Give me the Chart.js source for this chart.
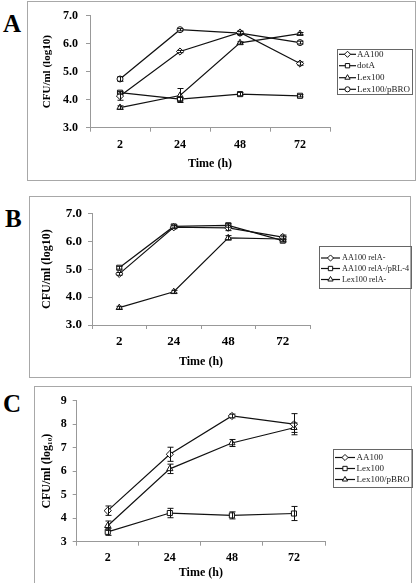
<!DOCTYPE html>
<html><head><meta charset="utf-8">
<script src="https://cdn.jsdelivr.net/npm/chart.js@4"></script>
<style>
html,body{margin:0;padding:0;background:#fff;width:416px;height:583px;overflow:hidden;}
.box{position:absolute;border:1px solid #a8a8a8;box-sizing:border-box;}
canvas{position:absolute;left:0;top:0;}
.lab{position:absolute;font-family:"Liberation Serif",serif;font-weight:bold;font-size:25px;line-height:25px;color:#000;}
</style></head><body>
<div class="box" style="left:27px;top:1px;width:389px;height:180px"></div>
<div class="box" style="left:29px;top:196px;width:382px;height:182px"></div>
<div class="box" style="left:34px;top:386px;width:378px;height:210px"></div>
<div class="lab" style="left:3px;top:10.6px">A</div>
<div class="lab" style="left:5px;top:205.6px">B</div>
<div class="lab" style="left:3px;top:390.8px">C</div>
<canvas id="cA" width="416" height="583"></canvas>
<canvas id="cB" width="416" height="583"></canvas>
<canvas id="cC" width="416" height="583"></canvas>
<script>
// ---------- data ----------
const timeLabels = ['2', '24', '48', '72'];

// Panel A
const aNames = ['AA100', 'dotA', 'Lex100', 'Lex100/pBRO'];
const aAA100 = [4.13, 5.72, 6.40, 5.29];
const aAA100Err = [0.15, 0.04, 0.05, 0.06];
const aDotA = [4.25, 4.02, 4.20, 4.14];
const aDotAErr = [0.05, 0.06, 0.06, 0.04];
const aLex100 = [3.72, 4.15, 6.03, 6.36];
const aLex100Err = [0.06, 0.25, 0.04, 0.04];
const aLexPBRO = [4.74, 6.50, 6.38, 6.04];
const aLexPBROErr = [0.08, 0.04, 0.05, 0.05];

// Panel B
const bNames = ['AA100 relA-', 'AA100 relA-/pRL-4', 'Lex100 relA-'];
const bAA100relA = [4.83, 6.50, 6.48, 6.15];
const bAA100relAErr = [0.05, 0.05, 0.10, 0.07];
const bAA100relAPRL = [5.05, 6.53, 6.57, 6.02];
const bAA100relAPRLErr = [0.05, 0.05, 0.07, 0.05];
const bLex100relA = [3.62, 4.19, 6.12, 6.08];
const bLex100relAErr = [0.05, 0.05, 0.08, 0.08];

// Panel C
const cNames = ['AA100', 'Lex100', 'Lex100/pBRO'];
const cAA100 = [4.32, 6.72, 8.35, 8.00];
const cAA100Err = [0.20, 0.30, 0.08, 0.45];
const cLex100 = [3.42, 4.22, 4.12, 4.20];
const cLex100Err = [0.15, 0.20, 0.15, 0.30];
const cLexPBRO = [3.68, 6.10, 7.20, 7.85];
const cLexPBROErr = [0.20, 0.20, 0.15, 0.20];

// ---------- plugins ----------
const errorBars = {
  id: 'errorBars',
  afterDatasetsDraw(chart) {
    const ctx = chart.ctx, ys = chart.scales.y;
    chart.data.datasets.forEach((ds, i) => {
      const meta = chart.getDatasetMeta(i);
      ctx.save();
      ctx.strokeStyle = '#111';
      ctx.lineWidth = 1;
      meta.data.forEach((pt, j) => {
        const v = ds.data[j], e = ds.errors[j];
        const x = Math.round(pt.x) + 0.5;
        const yt = ys.getPixelForValue(v + e), yb = ys.getPixelForValue(v - e);
        ctx.beginPath();
        ctx.moveTo(x, yt); ctx.lineTo(x, yb);
        ctx.moveTo(x - 3, yt); ctx.lineTo(x + 3, yt);
        ctx.moveTo(x - 3, yb); ctx.lineTo(x + 3, yb);
        ctx.stroke();
      });
      ctx.restore();
    });
  }
};

const legendBox = {
  id: 'legendBox',
  afterDraw(chart, args, o) {
    const ctx = chart.ctx;
    ctx.save();
    ctx.strokeStyle = '#666';
    ctx.lineWidth = 1;
    ctx.strokeRect(o.x0 + 0.5, o.y0 + 0.5, o.x1 - o.x0, o.y1 - o.y0);
    chart.data.datasets.forEach((ds, i) => {
      const y = o.rows[i];
      ctx.strokeStyle = '#111';
      ctx.lineWidth = 1.2;
      ctx.beginPath(); ctx.moveTo(o.lx0, y); ctx.lineTo(o.lx1, y); ctx.stroke();
      ctx.fillStyle = '#fff';
      ctx.strokeStyle = '#111';
      ctx.lineWidth = 1;
      Chart.helpers.drawPoint(ctx, {pointStyle: ds.pointStyle, radius: ds.pointRadius * 0.85, rotation: 0, borderWidth: 1}, (o.lx0 + o.lx1) / 2, y);
      ctx.fillStyle = '#222';
      ctx.font = o.fs + 'px "Liberation Serif"';
      ctx.textBaseline = 'middle';
      ctx.textAlign = 'left';
      ctx.fillText(ds.label, o.tx, y);
    });
    ctx.restore();
  }
};

// ---------- chart factory ----------
function ds(label, data, errors, style) {
  return {
    label, data, errors,
    borderColor: '#111', borderWidth: 1.2,
    pointStyle: style, pointRadius: style === 'circle' ? 3 : 3.6,
    pointBackgroundColor: '#fff', pointBorderColor: '#111', pointBorderWidth: 1,
    tension: 0, fill: false
  };
}

function makeChart(id, datasets, g) {
  return new Chart(document.getElementById(id), {
    type: 'line',
    data: { labels: timeLabels, datasets },
    plugins: [errorBars, legendBox],
    options: {
      responsive: false, animation: false, devicePixelRatio: 1,
      layout: { padding: { left: g.L, top: g.top, right: 416 - g.right, bottom: 583 - g.B } },
      plugins: { legend: { display: false }, tooltip: { enabled: false }, legendBox: g.legend },
      scales: {
        x: {
          type: 'category', offset: true,
          grid: { offset: true, drawOnChartArea: false, color: '#999', tickLength: 4 },
          border: { color: '#999', width: 1 },
          ticks: { padding: g.xpad, color: '#000', font: { family: 'Liberation Serif', weight: 'bold', size: g.tickSize } },
          title: { display: true, text: 'Time (h)', color: '#000', padding: { top: 0, bottom: g.xtpb },
                   font: { family: 'Liberation Serif', weight: 'bold', size: 12 } },
          afterFit(s) { s.height = g.B - g.bottom; }
        },
        y: {
          min: g.min, max: g.max,
          grid: { drawOnChartArea: false, color: '#999', tickLength: 4 },
          border: { color: '#999', width: 1 },
          ticks: { stepSize: 1, padding: g.ypad, color: '#000',
                   callback: v => g.dec ? v.toFixed(1) : String(v),
                   font: { family: 'Liberation Serif', weight: 'bold', size: g.tickSize } },
          title: { display: true, text: g.ytitle, color: '#000', padding: { top: g.ytpt, bottom: 0 },
                   font: { family: 'Liberation Serif', weight: 'bold', size: g.ytSize } },
          afterFit(s) { s.width = g.left - g.L; }
        }
      }
    }
  });
}

makeChart('cA', [
  ds(aNames[0], aAA100, aAA100Err, 'rectRot'),
  ds(aNames[1], aDotA, aDotAErr, 'rect'),
  ds(aNames[2], aLex100, aLex100Err, 'triangle'),
  ds(aNames[3], aLexPBRO, aLexPBROErr, 'circle')
], { L: 34, left: 90, right: 330, top: 15.7, bottom: 127.7, B: 175.2, min: 3, max: 7, dec: true,
     tickSize: 12, ytSize: 11, ytpt: 6.4, xtpb: 4, xpad: 6, ypad: 8, ytitle: 'CFU/ml (log10)',
     legend: { x0: 337, y0: 49, x1: 412, y1: 94, rows: [54.3, 65.7, 77.7, 89.3], lx0: 339, lx1: 356, tx: 357, fs: 9 } });

makeChart('cB', [
  ds(bNames[0], bAA100relA, bAA100relAErr, 'rectRot'),
  ds(bNames[1], bAA100relAPRL, bAA100relAPRLErr, 'rect'),
  ds(bNames[2], bLex100relA, bLex100relAErr, 'triangle')
], { L: 34, left: 92, right: 310, top: 213.3, bottom: 325, B: 372.9, min: 3, max: 7, dec: true,
     tickSize: 13, ytSize: 12, ytpt: 5.5, xtpb: 4, xpad: 5, ypad: 6, ytitle: 'CFU/ml (log10)',
     legend: { x0: 319, y0: 246, x1: 411, y1: 288, rows: [258, 268.5, 279.5], lx0: 321, lx1: 340, tx: 342, fs: 8.2 } });

makeChart('cC', [
  ds(cNames[0], cAA100, cAA100Err, 'rectRot'),
  ds(cNames[1], cLex100, cLex100Err, 'rect'),
  ds(cNames[2], cLexPBRO, cLexPBROErr, 'triangle')
], { L: 34, left: 76.7, right: 325, top: 400.7, bottom: 541.7, B: 580.5, min: 3, max: 9, dec: false,
     tickSize: 12, ytSize: 12, ytpt: 5.5, xtpb: 0, xpad: 5, ypad: 6, ytitle: 'CFU/ml (log₁₀)',
     legend: { x0: 333, y0: 449, x1: 412, y1: 487, rows: [457.5, 468.5, 479.5], lx0: 335, lx1: 355, tx: 356.5, fs: 9 } });
</script>
</body></html>
